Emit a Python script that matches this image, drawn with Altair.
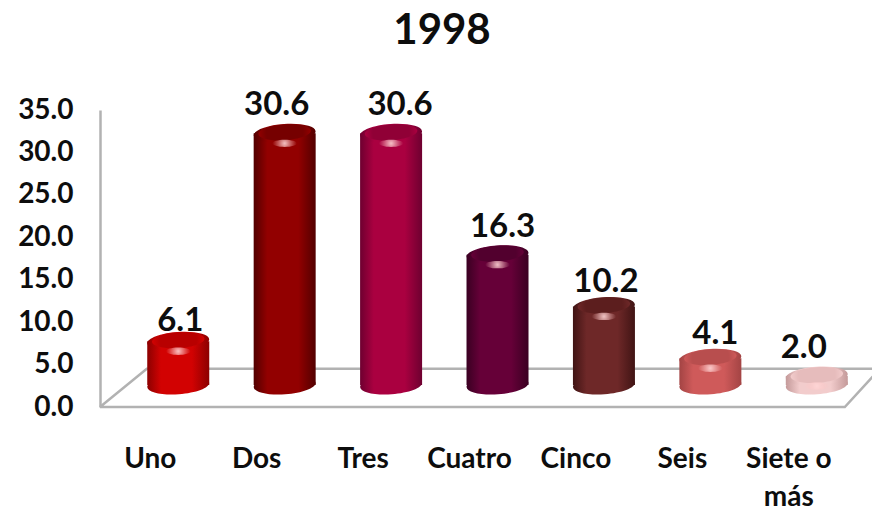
import altair as alt
import pandas as pd

TITLE = "1998"
categories = ["Uno", "Dos", "Tres", "Cuatro", "Cinco", "Seis", "Siete o más"]
values = [6.1, 30.6, 30.6, 16.3, 10.2, 4.1, 2.0]
y_ticks = [0, 5, 10, 15, 20, 25, 30, 35]

# floor outline of the 3D plot, in (category step, value) units
floor_x = [0.0, 7.0, 7.33, 0.44, 0.0]
floor_y = [0.0, 0.0, 4.5, 4.5, 0.0]

# edge, body, top surface colours of each cylinder
edge_colors = ["#8c0000", "#520000", "#6e0030", "#3a0022", "#401414", "#a34444", "#c49a9a"]
body_colors = ["#d20202", "#920000", "#aa0040", "#660038", "#6e2828", "#cf5a5a", "#f2cccc"]
top_colors = ["#b80000", "#760000", "#900036", "#52002e", "#5c1e1e", "#b84e4e", "#e6bcbc"]
label_dx = [2, -8, 9, 5, 2, 5, -13]
label_dy = [-34, -42, -42, -42, -38, -38, -42]

FONT = "Lato"
GRAY = "#b2b2b2"
W, H = 772, 297
STEP = 106.4
BAR = 62
ELLIPSE = "M-1,0A1,0.3 0 1,0 1,0A1,0.3 0 1,0 -1,0Z"

df = pd.DataFrame({"cat": categories, "value": values})
x_scale = alt.Scale(type="band", domain=categories, paddingInner=0, paddingOuter=0.127, align=0.926)
y_scale = alt.Scale(domain=[0, 35], nice=False)
xq_scale = alt.Scale(domain=[0, W / STEP], nice=False)
y_axis = alt.Axis(
    values=y_ticks, format=".1f", title=None, grid=False, ticks=False,
    domainColor=GRAY, domainWidth=2.5, labelPadding=27,
    labelFont=FONT, labelFontSize=28, labelFontWeight="bold",
    labelColor="#0d0d0d",
)


def side_gradient(edge, body):
    return alt.Gradient(
        gradient="linear", x1=0, x2=1, y1=0, y2=0,
        stops=[
            alt.GradientStop(offset=0, color=edge),
            alt.GradientStop(offset=0.22, color=body),
            alt.GradientStop(offset=0.72, color=body),
            alt.GradientStop(offset=1, color=edge),
        ],
    )


def soft(color, body):
    return alt.Gradient(
        gradient="radial", x1=0.5, y1=0.5, x2=0.5, y2=0.5, r1=0, r2=0.5,
        stops=[
            alt.GradientStop(offset=0, color=color),
            alt.GradientStop(offset=0.7, color=color),
            alt.GradientStop(offset=1, color=body),
        ],
    )


shine = alt.Gradient(
    gradient="radial", x1=0.5, y1=0.5, x2=0.5, y2=0.5, r1=0, r2=0.5,
    stops=[
        alt.GradientStop(offset=0, color="rgba(255,215,215,0.9)"),
        alt.GradientStop(offset=1, color="rgba(255,190,190,0)"),
    ],
)

enc_x = alt.X("cat:N", scale=x_scale, axis=None)
enc_y = alt.Y("value:Q", scale=y_scale, axis=y_axis)

floor = (
    alt.Chart(pd.DataFrame({"fx": floor_x, "fy": floor_y, "o": range(len(floor_x))}))
    .mark_line(color=GRAY, strokeWidth=2.5, clip=False)
    .encode(
        x=alt.X("fx:Q", scale=xq_scale, axis=None),
        y=alt.Y("fy:Q", scale=y_scale, axis=y_axis),
        order="o:Q",
    )
)

cat_axis = (
    alt.Chart(df)
    .mark_point(opacity=0)
    .encode(
        x=alt.X(
            "cat:N", scale=x_scale,
            axis=alt.Axis(
                title=None, domain=False, ticks=False, labelAngle=0, labelOffset=-28,
                labelPadding=38, labelFont=FONT, labelFontSize=28, labelFontWeight="bold",
                labelColor="#0d0d0d", labelLimit=200, labelLineHeight=38,
                labelExpr="datum.label == 'Siete o más' ? ['Siete o', 'más'] : datum.label",
            ),
        ),
        y=enc_y,
    )
)

layers = [floor, cat_axis]
for i, cat in enumerate(categories):
    row = df[df["cat"] == cat]
    side = side_gradient(edge_colors[i], body_colors[i])
    base = alt.Chart(row)
    zero = base.transform_calculate(zero="0")
    size = BAR * BAR
    # foot of the cylinder
    layers.append(
        zero.mark_point(shape=ELLIPSE, filled=True, fill=side, opacity=1, strokeWidth=0,
                        size=size, angle=356, yOffset=-22)
        .encode(x=enc_x, y=alt.Y("zero:Q", scale=y_scale, axis=y_axis))
    )
    # body
    layers.append(
        base.mark_bar(fill=side, width=BAR, yOffset=-14, y2Offset=-22)
        .encode(x=enc_x, y=enc_y, y2=alt.Y2(datum=0))
    )
    # rounded shoulder
    layers.append(
        base.mark_point(shape=ELLIPSE, filled=True, fill=side, opacity=1, strokeWidth=0,
                        size=size, angle=356, yOffset=-14)
        .encode(x=enc_x, y=enc_y)
    )
    # top surface
    layers.append(
        base.mark_point(shape=ELLIPSE, filled=True, fill=soft(top_colors[i], body_colors[i]),
                        opacity=1, strokeWidth=0, size=size * 0.72, angle=356, yOffset=-15)
        .encode(x=enc_x, y=enc_y)
    )
    # highlight
    layers.append(
        base.mark_point(shape=ELLIPSE, filled=True, fill=shine, opacity=1, strokeWidth=0,
                        size=600, yOffset=-4)
        .encode(x=enc_x, y=enc_y)
    )
    # value label
    layers.append(
        base.mark_text(font=FONT, fontSize=33, fontWeight="bold", color="#0d0d0d",
                       dy=label_dy[i], dx=label_dx[i], baseline="middle")
        .encode(x=enc_x, y=enc_y, text=alt.Text("value:Q", format=".1f"))
    )

chart = (
    alt.layer(*layers)
    .resolve_scale(x="independent")
    .properties(
        width=W,
        height=H,
        title=alt.TitleParams(
            TITLE, font=FONT, fontSize=42, fontWeight="bold", color="#0d0d0d",
            anchor="middle", dx=-44, offset=36,
        ),
        padding={"left": 92, "top": 102, "right": 0, "bottom": 102},
        autosize=alt.AutoSizeParams(type="none"),
    )
    .configure_view(stroke=None)
)

chart.save("out.html", embed_options={"renderer": "svg", "actions": False})
